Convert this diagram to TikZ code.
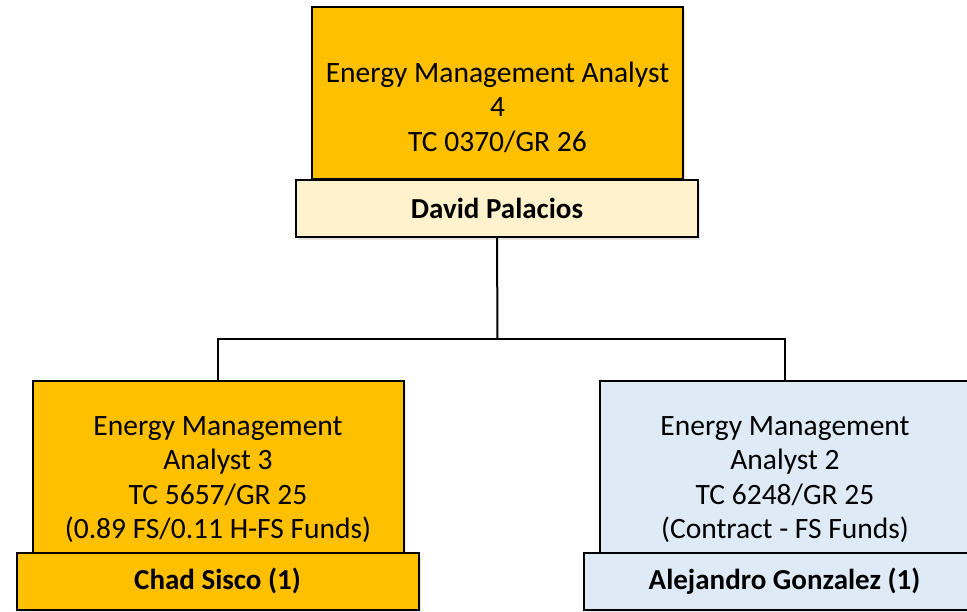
\documentclass[tikz,border=0pt]{standalone}
\usepackage{fontspec}
\setmainfont{Carlito}
\usetikzlibrary{shadows}
\definecolor{gold}{HTML}{FFC000}
\definecolor{cream}{HTML}{FFF2CC}
\definecolor{paleblue}{HTML}{DEEBF7}
\begin{document}
\begin{tikzpicture}[x=1pt,y=-1pt,
  boxbase/.style={draw=black, line width=2pt, inner sep=0pt,
    drop shadow={shadow xshift=2pt, shadow yshift=-3pt, opacity=0.2}},
  rolebox/.style={boxbase, minimum width=371pt, minimum height=172pt},
  namebox/.style={boxbase, minimum width=402pt, minimum height=57pt,
    font=\fontsize{29}{34}\selectfont\bfseries},
  roletext/.style={align=center, inner sep=0pt, font=\fontsize{29.5}{34.5}\selectfont},
  conn/.style={draw=black, line width=2pt}]
\useasboundingbox (0,0) rectangle (967,611);
% connectors
\coordinate (j) at (497.5,339);
% top
\node[rolebox, fill=gold] (tr) at (497.5,93) {};
\node[roletext] (trt) at (497.5,107) {Energy Management Analyst\\4\\TC 0370/GR 26};
% left
\node[rolebox, fill=gold] (lr) at (218,467) {};
\node[roletext] (lrt) at (218,479.5) {Energy Management\\Analyst 3\\TC 5657/GR 25\\(0.89 FS/0.11 H-FS Funds)};
% right
\node[rolebox, fill=paleblue] (rr) at (785,467) {};
\node[roletext] (rrt) at (785,479.5) {Energy Management\\Analyst 2\\TC 6248/GR 25\\(Contract - FS Funds)};
% names
\node[namebox, fill=cream] (tn) at (497,208) {David Palacios};
\node[namebox, fill=gold] (ln) at (217.5,581) {Chad Sisco (1)};
\node[namebox, fill=paleblue] (rn) at (784.5,581) {Alejandro Gonzalez (1)};
\draw[conn] (tn.south) -- (j);
\draw[conn] (lr.north) |- (j) -| (rr.north);
\end{tikzpicture}
\end{document}
